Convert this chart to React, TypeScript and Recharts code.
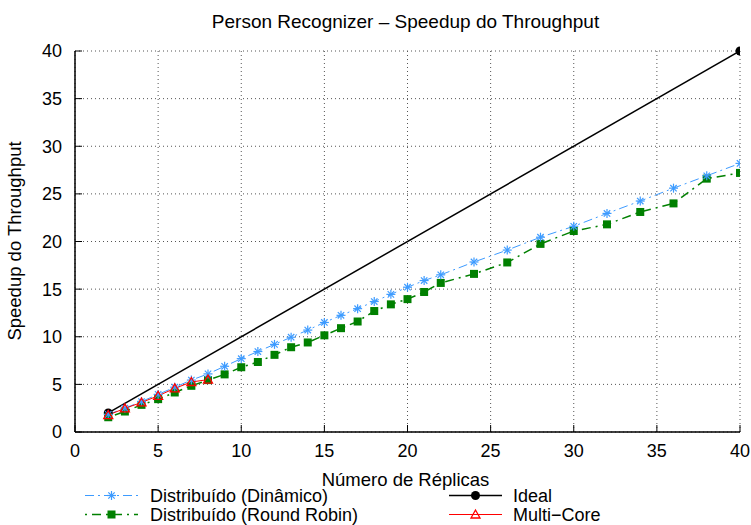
import React from 'react';
import {
	LineChart,
	Line,
	XAxis,
	YAxis,
	CartesianGrid,
	Legend,
} from 'recharts';

const FONT = '"Liberation Sans", Arial, Helvetica, sans-serif';

// replicas and measured speedup
const dynReplicas = [2, 3, 4, 5, 6, 7, 8, 9, 10, 11, 12, 13, 14, 15, 16, 17, 18, 19, 20, 21, 22, 24, 26, 28, 30, 32, 34, 36, 38, 40];
const dynSpeedup = [1.85, 2.5, 3.2, 3.95, 4.7, 5.45, 6.1, 6.9, 7.7, 8.45, 9.2, 9.95, 10.7, 11.5, 12.25, 12.95, 13.7, 14.45, 15.2, 15.9, 16.5, 17.85, 19.1, 20.45, 21.6, 22.95, 24.25, 25.6, 26.9, 28.2];

const rrReplicas = [2, 3, 4, 5, 6, 7, 8, 9, 10, 11, 12, 13, 14, 15, 16, 17, 18, 19, 20, 21, 22, 24, 26, 28, 30, 32, 34, 36, 38, 40];
const rrSpeedup = [1.55, 2.15, 2.85, 3.45, 4.15, 4.85, 5.45, 6.05, 6.8, 7.35, 8.1, 8.9, 9.4, 10.15, 10.9, 11.6, 12.7, 13.4, 13.95, 14.7, 15.65, 16.6, 17.8, 19.75, 21.1, 21.8, 23.1, 24.0, 26.6, 27.2];

const idealReplicas = [2, 40];
const idealSpeedup = [2, 40];

const mcReplicas = [2, 3, 4, 5, 6, 7, 8];
const mcSpeedup = [1.78, 2.48, 3.1, 3.8, 4.58, 5.25, 5.5];

const xTicks = [0, 5, 10, 15, 20, 25, 30, 35, 40];
const yTicks = [0, 5, 10, 15, 20, 25, 30, 35, 40];

const toPoints = (xs: number[], ys: number[]) => xs.map((x, i) => ({ x, y: ys[i] }));

const dynData = toPoints(dynReplicas, dynSpeedup);
const rrData = toPoints(rrReplicas, rrSpeedup);
const idealData = toPoints(idealReplicas, idealSpeedup);
const mcData = toPoints(mcReplicas, mcSpeedup);

const BLUE = '#3d9bff';
const GREEN = '#008000';
const RED = '#ff0000';

const Asterisk = ({ cx, cy, color }: any) => {
	const r = 4.5;
	const d = 3.2;
	return (
		<g stroke={color} strokeWidth={1.2}>
			<line x1={cx - r} y1={cy} x2={cx + r} y2={cy} />
			<line x1={cx} y1={cy - r} x2={cx} y2={cy + r} />
			<line x1={cx - d} y1={cy - d} x2={cx + d} y2={cy + d} />
			<line x1={cx - d} y1={cy + d} x2={cx + d} y2={cy - d} />
		</g>
	);
};

const Square = ({ cx, cy, color }: any) => (
	<rect x={cx - 4} y={cy - 4} width={8} height={8} fill={color} />
);

const Circle = ({ cx, cy, color }: any) => <circle cx={cx} cy={cy} r={4.5} fill={color} />;

const Triangle = ({ cx, cy, color }: any) => (
	<polygon
		points={`${cx},${cy - 4.5} ${cx - 4.5},${cy + 3.5} ${cx + 4.5},${cy + 3.5}`}
		fill="none"
		stroke={color}
		strokeWidth={1.3}
	/>
);

const series = [
	{ name: 'Distribuído (Dinâmico)', color: BLUE, dash: '9 4 2 4', width: 1, Marker: Asterisk },
	{ name: 'Distribuído (Round Robin)', color: GREEN, dash: '2 5 9 5', width: 1.5, Marker: Square },
	{ name: 'Ideal', color: '#000', dash: undefined, width: 1.5, Marker: Circle },
	{ name: 'Multi\u2212Core', color: RED, dash: undefined, width: 1, Marker: Triangle },
];

const dotFor = (Marker: any, color: string) => (props: any) => {
	const { cx, cy, index } = props;
	if (cx == null || cy == null) return <g key={index} />;
	return (
		<g key={index}>
			<Marker cx={cx} cy={cy} color={color} />
		</g>
	);
};

const renderLegend = () => {
	const cols = [
		{ x1: 85, x2: 138, tx: 150 },
		{ x1: 449, x2: 502, tx: 513 },
	];
	const rows = [15.5, 34.5];
	const slots = [
		[0, 0],
		[0, 1],
		[1, 0],
		[1, 1],
	];
	return (
		<svg width={751} height={45} style={{ display: 'block' }}>
			{series.map((s, i) => {
				const col = cols[slots[i][0]];
				const y = rows[slots[i][1]];
				const mx = (col.x1 + col.x2) / 2;
				return (
					<g key={s.name}>
						<line
							x1={col.x1}
							y1={y}
							x2={col.x2}
							y2={y}
							stroke={s.color}
							strokeWidth={s.width}
							strokeDasharray={s.dash}
						/>
						<s.Marker cx={mx} cy={y} color={s.color} />
						<text x={col.tx} y={y + 6.5} fontSize={18} fill="#000" fontFamily={FONT}>
							{s.name}
						</text>
					</g>
				);
			})}
		</svg>
	);
};

const tickStyle = { fill: '#000', fontSize: 18, fontFamily: FONT };

const App = () => {
	return (
		<div
			style={{
				position: 'absolute',
				left: 0,
				top: 0,
				width: 751,
				height: 525,
				background: '#fff',
				fontFamily: FONT,
			}}
		>
			<div
				style={{
					position: 'absolute',
					top: 13,
					left: 0,
					width: 811,
					textAlign: 'center',
					fontSize: 19,
					lineHeight: '18px',
				}}
			>
				Person Recognizer – Speedup do Throughput
			</div>
			<div
				style={{
					position: 'absolute',
					top: 471,
					left: 0,
					width: 811,
					textAlign: 'center',
					fontSize: 18.5,
					lineHeight: '18px',
				}}
			>
				Número de Réplicas
			</div>
			<div
				style={{
					position: 'absolute',
					top: 241,
					left: 15,
					width: 0,
					height: 0,
				}}
			>
				<div
					style={{
						position: 'absolute',
						left: -200,
						top: -9,
						width: 400,
						textAlign: 'center',
						fontSize: 18.5,
						lineHeight: '18px',
						transform: 'rotate(-90deg)',
					}}
				>
					Speedup do Throughput
				</div>
			</div>
			<div style={{ position: 'absolute', left: 0, top: 0 }}>
				<LineChart
					width={751}
					height={525}
					margin={{ top: 51, right: 11, bottom: 63, left: 0 }}
				>
					<CartesianGrid stroke="#555" strokeDasharray="1 3" strokeWidth={1} />
					<XAxis
						type="number"
						dataKey="x"
						domain={[0, 40]}
						ticks={xTicks}
						allowDataOverflow
						height={30}
						tick={tickStyle}
						tickSize={-7}
						tickMargin={19}
						axisLine={{ stroke: '#000', strokeWidth: 1.5 }}
						tickLine={{ stroke: '#000' }}
					/>
					<XAxis
						xAxisId="top"
						orientation="top"
						type="number"
						dataKey="x"
						domain={[0, 40]}
						ticks={xTicks}
						height={0}
						tick={false}
						tickSize={-7}
						axisLine={{ stroke: '#000', strokeWidth: 1.5 }}
						tickLine={{ stroke: '#000' }}
					/>
					<YAxis
						type="number"
						domain={[0, 40]}
						ticks={yTicks}
						width={75}
						tick={tickStyle}
						tickSize={-7}
						tickMargin={20}
						axisLine={{ stroke: '#000', strokeWidth: 1.5 }}
						tickLine={{ stroke: '#000' }}
					/>
					<YAxis
						yAxisId="right"
						orientation="right"
						type="number"
						domain={[0, 40]}
						ticks={yTicks}
						width={0}
						tick={false}
						tickSize={-7}
						axisLine={{ stroke: '#000', strokeWidth: 1.5 }}
						tickLine={{ stroke: '#000' }}
					/>
					<Line
						data={idealData}
						dataKey="y"
						name="Ideal"
						stroke="#000"
						strokeWidth={1.5}
						dot={dotFor(Circle, '#000')}
						activeDot={false}
						isAnimationActive={false}
					/>
					<Line
						data={rrData}
						dataKey="y"
						name="Distribuído (Round Robin)"
						stroke={GREEN}
						strokeWidth={1.5}
						strokeDasharray="2 5 9 5"
						dot={dotFor(Square, GREEN)}
						activeDot={false}
						isAnimationActive={false}
					/>
					<Line
						data={dynData}
						dataKey="y"
						name="Distribuído (Dinâmico)"
						stroke={BLUE}
						strokeWidth={1}
						strokeDasharray="9 4 2 4"
						dot={dotFor(Asterisk, BLUE)}
						activeDot={false}
						isAnimationActive={false}
					/>
					<Line
						data={mcData}
						dataKey="y"
						name="Multi-Core"
						stroke={RED}
						strokeWidth={1}
						dot={dotFor(Triangle, RED)}
						activeDot={false}
						isAnimationActive={false}
					/>
					<Legend
						content={renderLegend}
						layout="horizontal"
						verticalAlign="middle"
						align="center"
						wrapperStyle={{ position: 'absolute', top: 480, left: 0, width: 751, height: 45 }}
					/>
				</LineChart>
			</div>
		</div>
	);
};

export default App;
